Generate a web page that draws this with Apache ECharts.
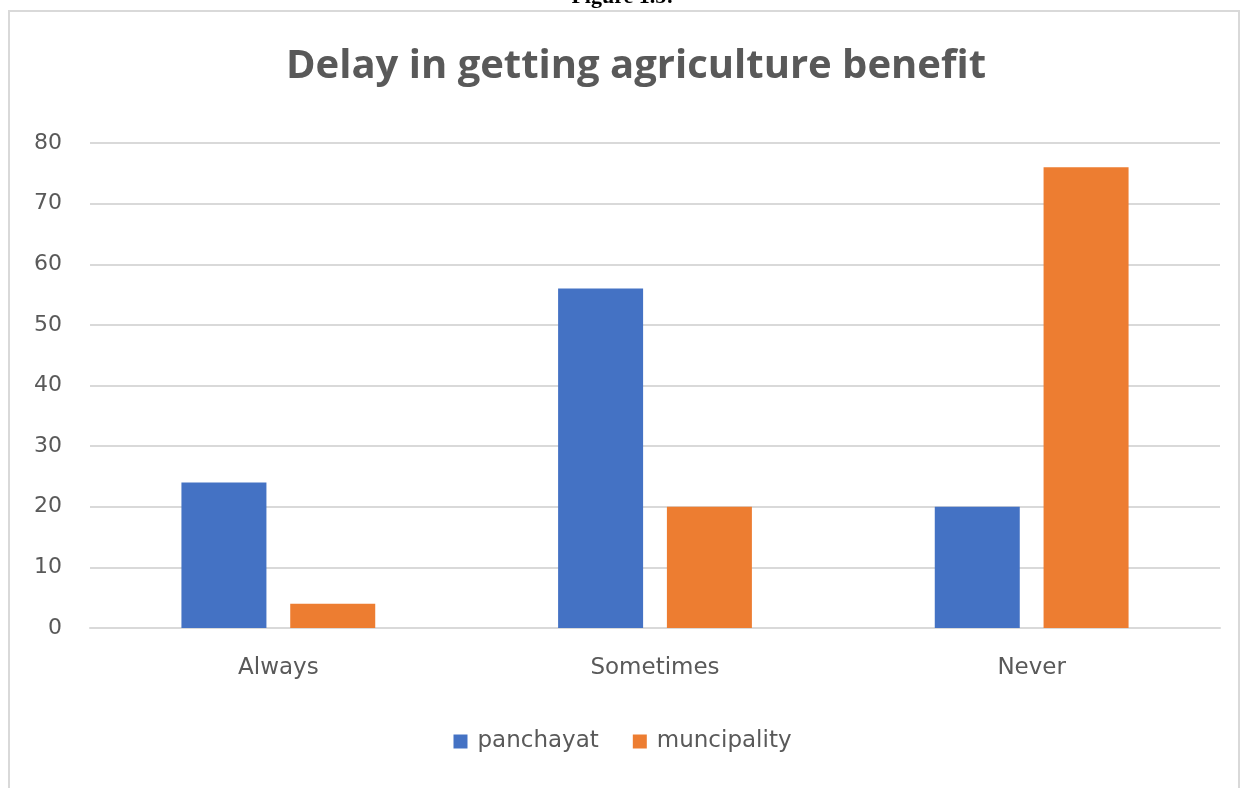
<!DOCTYPE html>
<html>
<head>
<meta charset="utf-8">
<script src="https://cdn.jsdelivr.net/npm/echarts@6/dist/echarts.min.js"></script>
<style>
  html, body { margin: 0; padding: 0; background: #fff; }
  #main { width: 1245px; height: 788px; }
</style>
</head>
<body>
<div id="main"></div>
<script>
    var categories = ['Always', 'Sometimes', 'Never'];
    var panchayat = [24, 56, 20];
    var muncipality = [4, 20, 76];
    var yTicks = [0, 10, 20, 30, 40, 50, 60, 70, 80];

    var myChart = echarts.init(document.getElementById('main'));

    // font + colours close to the office chart style
    var font = 'Open Sans, Noto Sans, sans-serif';
    var labelFont = 'DejaVu Sans, sans-serif';
    var textGrey = '#595959';

    option = {
        color: ['#4472C4', '#ED7D31'],
        animation: false,
        title: {
            text: 'Delay in getting agriculture benefit',
            left: 281,
            top: 42,
            textStyle: { fontFamily: font, fontSize: 40, fontWeight: 'bold', color: textGrey }
        },
        graphic: [{
            type: 'text',
            left: 'center',
            top: -14,
            style: { text: 'Figure 1.5:', font: 'bold 22px "Liberation Serif", serif', fill: '#000' }
        }, {
            type: 'rect',
            shape: { x: 9, y: 11, width: 1230, height: 800 },
            style: { fill: 'none', stroke: '#d9d9d9', lineWidth: 2 },
            silent: true
        }],
        legend: {
            bottom: 30,
            left: 'center',
            itemWidth: 14,
            itemHeight: 14,
            itemGap: 34,
            icon: 'rect',
            textStyle: { fontFamily: labelFont, fontSize: 23, color: textGrey, padding: [0, 0, 0, 5] },
            data: ['panchayat', 'muncipality']
        },
        grid: { left: 90, right: 25, top: 143, bottom: 160 },
        xAxis: {
            type: 'category',
            data: categories,
            axisLine: { lineStyle: { color: '#d9d9d9', width: 2 } },
            axisTick: { show: false },
            axisLabel: { fontFamily: labelFont, fontSize: 23, color: textGrey, margin: 29 }
        },
        yAxis: {
            type: 'value',
            min: yTicks[0],
            max: yTicks[yTicks.length - 1],
            interval: 10,
            axisLine: { show: false },
            axisTick: { show: false },
            splitLine: { lineStyle: { color: '#d9d9d9', width: 2 } },
            axisLabel: { fontFamily: labelFont, fontSize: 22, color: textGrey, margin: 28 }
        },
        series: [{
            name: 'panchayat',
            type: 'bar',
            barWidth: 85,
            barGap: '28%',
            data: panchayat
        }, {
            name: 'muncipality',
            type: 'bar',
            barWidth: 85,
            data: muncipality
        }]
    };

    myChart.setOption(option);
</script>
</body>
</html>
